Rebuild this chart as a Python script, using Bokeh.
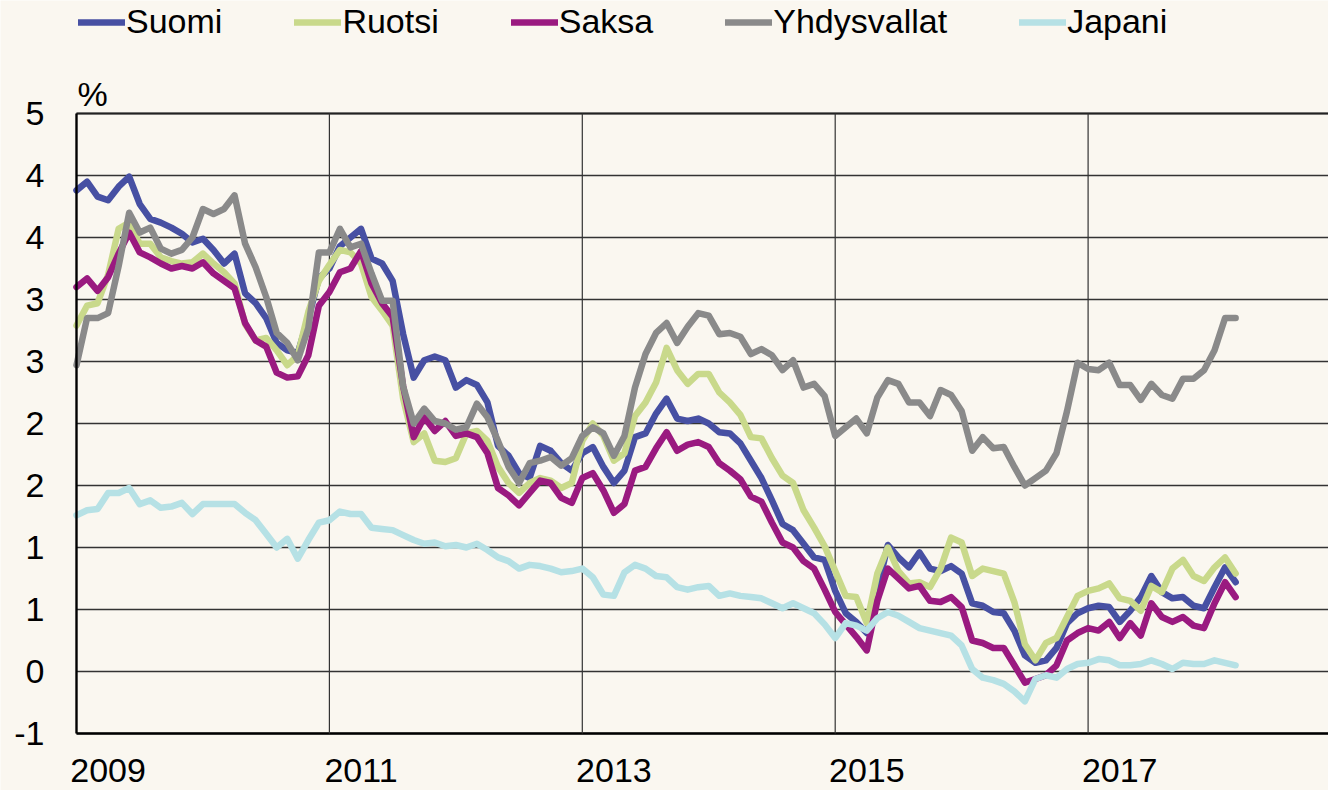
from bokeh.plotting import figure
from bokeh.models import (Range1d, Legend, LegendItem, Label)
from bokeh.embed import file_html
from bokeh.resources import INLINE

# ---------------- data (monthly, Jan 2009 .. Mar 2018) ----------------
series_names = ["Suomi", "Ruotsi", "Saksa", "Yhdysvallat", "Japani"]

suomi = [
    3.88, 3.95, 3.83, 3.80, 3.91, 3.99, 3.77, 3.65, 3.62, 3.58, 3.53, 3.46,
    3.49, 3.40, 3.29, 3.37, 3.05, 2.97, 2.85, 2.65, 2.59, 2.57, 2.85, 3.17,
    3.25, 3.43, 3.50, 3.57, 3.33, 3.29, 3.15, 2.72, 2.37, 2.51, 2.54, 2.51,
    2.29, 2.35, 2.31, 2.17, 1.82, 1.74, 1.60, 1.56, 1.82, 1.78, 1.68, 1.62,
    1.76, 1.81, 1.65, 1.52, 1.62, 1.89, 1.92, 2.08, 2.20, 2.04, 2.02, 2.04,
    2.00, 1.93, 1.92, 1.84, 1.70, 1.56, 1.38, 1.19, 1.14, 1.03, 0.92, 0.90,
    0.65, 0.47, 0.40, 0.31, 0.66, 1.02, 0.92, 0.84, 0.96, 0.83, 0.81, 0.85,
    0.79, 0.55, 0.53, 0.48, 0.47, 0.33, 0.13, 0.07, 0.09, 0.19, 0.39, 0.47,
    0.51, 0.53, 0.52, 0.40, 0.49, 0.60, 0.77, 0.64, 0.59, 0.60, 0.53, 0.51,
    0.68, 0.84, 0.72,
]
ruotsi = [
    2.79, 2.95, 2.97, 3.20, 3.57, 3.62, 3.45, 3.45, 3.34, 3.31, 3.29, 3.30,
    3.37, 3.29, 3.22, 3.13, 2.80, 2.67, 2.69, 2.59, 2.47, 2.55, 2.90, 3.15,
    3.28, 3.40, 3.38, 3.29, 3.02, 2.91, 2.79, 2.20, 1.85, 1.92, 1.70, 1.69,
    1.72, 1.92, 1.94, 1.86, 1.65, 1.52, 1.44, 1.52, 1.56, 1.54, 1.48, 1.52,
    1.86, 2.00, 1.90, 1.70, 1.76, 2.06, 2.17, 2.33, 2.61, 2.43, 2.32, 2.40,
    2.40, 2.25, 2.17, 2.07, 1.89, 1.88, 1.72, 1.58, 1.52, 1.30, 1.16, 1.01,
    0.81, 0.61, 0.60, 0.39, 0.79, 1.00, 0.81, 0.71, 0.72, 0.68, 0.83, 1.08,
    1.04, 0.77, 0.83, 0.81, 0.79, 0.56, 0.22, 0.09, 0.23, 0.27, 0.44, 0.61,
    0.65, 0.67, 0.71, 0.59, 0.57, 0.49, 0.69, 0.64, 0.83, 0.90, 0.77, 0.73,
    0.84, 0.92, 0.79,
]
saksa = [
    3.10, 3.17, 3.07, 3.18, 3.37, 3.54, 3.38, 3.34, 3.29, 3.25, 3.27, 3.25,
    3.30, 3.21, 3.15, 3.09, 2.81, 2.67, 2.62, 2.41, 2.37, 2.38, 2.55, 2.95,
    3.06, 3.22, 3.25, 3.39, 3.13, 2.97, 2.86, 2.30, 1.89, 2.05, 1.94, 2.02,
    1.90, 1.92, 1.89, 1.76, 1.48, 1.42, 1.34, 1.44, 1.54, 1.52, 1.40, 1.36,
    1.56, 1.60, 1.46, 1.28, 1.35, 1.62, 1.65, 1.80, 1.93, 1.78, 1.83, 1.85,
    1.81, 1.68, 1.62, 1.55, 1.41, 1.37, 1.20, 1.04, 1.00, 0.89, 0.83, 0.66,
    0.48, 0.38, 0.28, 0.17, 0.57, 0.83, 0.75, 0.67, 0.69, 0.57, 0.56, 0.60,
    0.52, 0.25, 0.23, 0.19, 0.19, 0.05, -0.09, -0.06, -0.03, 0.05, 0.25, 0.31,
    0.35, 0.33, 0.40, 0.27, 0.39, 0.29, 0.55, 0.44, 0.40, 0.44, 0.37, 0.35,
    0.55, 0.72, 0.60,
]
yhdysvallat = [
    2.47, 2.85, 2.85, 2.89, 3.27, 3.70, 3.54, 3.58, 3.41, 3.37, 3.40, 3.50,
    3.73, 3.69, 3.73, 3.84, 3.45, 3.26, 3.02, 2.73, 2.65, 2.51, 2.77, 3.38,
    3.38, 3.57, 3.42, 3.45, 3.21, 2.99, 2.99, 2.30, 2.00, 2.12, 2.02, 2.00,
    1.95, 1.97, 2.16, 2.05, 1.86, 1.65, 1.52, 1.68, 1.70, 1.73, 1.66, 1.72,
    1.90, 1.97, 1.92, 1.74, 1.90, 2.29, 2.56, 2.73, 2.81, 2.65, 2.78, 2.89,
    2.87, 2.72, 2.73, 2.70, 2.56, 2.60, 2.55, 2.43, 2.51, 2.29, 2.32, 2.22,
    1.90, 1.97, 2.04, 1.92, 2.21, 2.35, 2.32, 2.17, 2.17, 2.06, 2.27, 2.23,
    2.10, 1.78, 1.89, 1.80, 1.81, 1.65, 1.50, 1.56, 1.62, 1.76, 2.10, 2.49,
    2.44, 2.43, 2.49, 2.31, 2.31, 2.19, 2.32, 2.23, 2.20, 2.36, 2.36, 2.43,
    2.59, 2.85, 2.85,
]
japani = [
    1.26, 1.30, 1.31, 1.44, 1.44, 1.48, 1.35, 1.38, 1.32, 1.33, 1.36, 1.27,
    1.35, 1.35, 1.35, 1.35, 1.28, 1.22, 1.11, 1.00, 1.07, 0.91, 1.06, 1.20,
    1.22, 1.29, 1.27, 1.27, 1.16, 1.15, 1.14, 1.10, 1.06, 1.03, 1.04, 1.01,
    1.02, 1.00, 1.03, 0.98, 0.92, 0.89, 0.83, 0.86, 0.85, 0.83, 0.80, 0.81,
    0.83, 0.76, 0.62, 0.61, 0.80, 0.86, 0.83, 0.77, 0.76, 0.68, 0.66, 0.68,
    0.69, 0.61, 0.63, 0.61, 0.60, 0.59, 0.55, 0.51, 0.55, 0.51, 0.47, 0.38,
    0.27, 0.39, 0.37, 0.33, 0.43, 0.48, 0.45, 0.40, 0.35, 0.33, 0.31, 0.29,
    0.21, 0.02, -0.05, -0.07, -0.10, -0.16, -0.24, -0.06, -0.03, -0.05, 0.02, 0.06,
    0.07, 0.10, 0.09, 0.05, 0.05, 0.06, 0.09, 0.06, 0.02, 0.07, 0.06, 0.06,
    0.09, 0.07, 0.05,
]

first_year = 2009
year_labels = [2009, 2011, 2013, 2015, 2017]
y_ticks = [-0.5, 0.0, 0.5, 1.0, 1.5, 2.0, 2.5, 3.0, 3.5, 4.0, 4.5]
y_tick_labels = ["-1", "0", "1", "1", "2", "2", "3", "3", "4", "4", "5"]

# ---------------- styling ----------------
colors = ["#4750A3", "#C9D98B", "#9A1A80", "#8A8A8A", "#B6E1E5"]
bg = "#FAF7F0"
font = "Liberation Sans"
fsize = "34px"

months = list(range(len(suomi)))
all_series = [suomi, ruotsi, saksa, yhdysvallat, japani]

PX_PER_MONTH = 252.9 / 24.0
PX_PER_UNIT = 124.0
W, H = 1328, 790
LEFT = 76             # canvas x of the left axis
ZERO_Y = 671          # canvas y of value 0
x_left = -LEFT / PX_PER_MONTH
x_right = (W - LEFT) / PX_PER_MONTH
y_top = ZERO_Y / PX_PER_UNIT
y_bot = (ZERO_Y - H) / PX_PER_UNIT

p = figure(width=W, height=H, output_backend="svg", toolbar_location=None,
           x_range=Range1d(x_left, x_right),
           y_range=Range1d(y_bot, y_top),
           x_axis_location=None, y_axis_location=None,
           min_border=0)
p.background_fill_color = bg
p.border_fill_color = bg
p.outline_line_color = None
for g in p.grid:
    g.visible = False

n_y = len(y_ticks)
# horizontal grid lines (from the left axis to the right edge)
p.segment(x0=[0] * n_y, y0=y_ticks, x1=[x_right] * n_y, y1=y_ticks,
          line_color="#333333", line_width=1.3)
# bottom and top border lines
p.segment(x0=[0], y0=[y_ticks[0]], x1=[x_right], y1=[y_ticks[0]],
          line_color="black", line_width=2.4)
p.segment(x0=[0], y0=[y_ticks[-1]], x1=[x_right], y1=[y_ticks[-1]],
          line_color="#222222", line_width=2.0)

# vertical grid lines every two years (x=0 is the left axis)
grid_x = [(y - first_year) * 12 for y in year_labels]
p.segment(x0=grid_x[1:], y0=[y_ticks[0]] * (len(grid_x) - 1),
          x1=grid_x[1:], y1=[y_ticks[-1]] * (len(grid_x) - 1),
          line_color="#333333", line_width=1.2)

# data lines
renderers = []
for name, vals, c in zip(series_names, all_series, colors):
    r = p.line(months, vals, line_color=c, line_width=6.5,
               line_join="round", line_cap="round")
    renderers.append(r)

# left axis line
p.segment(x0=[grid_x[0]], y0=[y_ticks[0]], x1=[grid_x[0]], y1=[y_ticks[-1]],
          line_color="black", line_width=2.4)

# y tick labels (Excel-style rounded values)
for t, s in zip(y_ticks, y_tick_labels):
    p.add_layout(Label(x=grid_x[0], y=t, x_offset=-32, text=s,
                       text_font=font, text_font_size=fsize,
                       text_align="right", text_baseline="middle",
                       text_color="black"))

# x labels (year labels centred a quarter after each grid line)
for gx, yr in zip(grid_x, year_labels):
    p.add_layout(Label(x=gx + 3, y=y_ticks[0], y_offset=-37, text=str(yr),
                       text_font=font, text_font_size=fsize,
                       text_align="center", text_baseline="middle",
                       text_color="black"))

# % unit label
p.add_layout(Label(x=grid_x[0], y=y_ticks[-1], x_offset=1, y_offset=20, text="%",
                   text_font=font, text_font_size=fsize, text_baseline="middle",
                   text_color="black"))

legend = Legend(items=[LegendItem(label=n, renderers=[r]) for n, r in zip(series_names, renderers)],
                orientation="horizontal", location=(LEFT + 2, 749), padding=0, margin=0,
                spacing=72, glyph_width=47, glyph_height=20, label_standoff=1,
                label_text_font=font, label_text_font_size=fsize,
                label_text_color="black",
                background_fill_alpha=0, border_line_alpha=0)
p.add_layout(legend)

open("out.html", "w").write(file_html(p, INLINE))
